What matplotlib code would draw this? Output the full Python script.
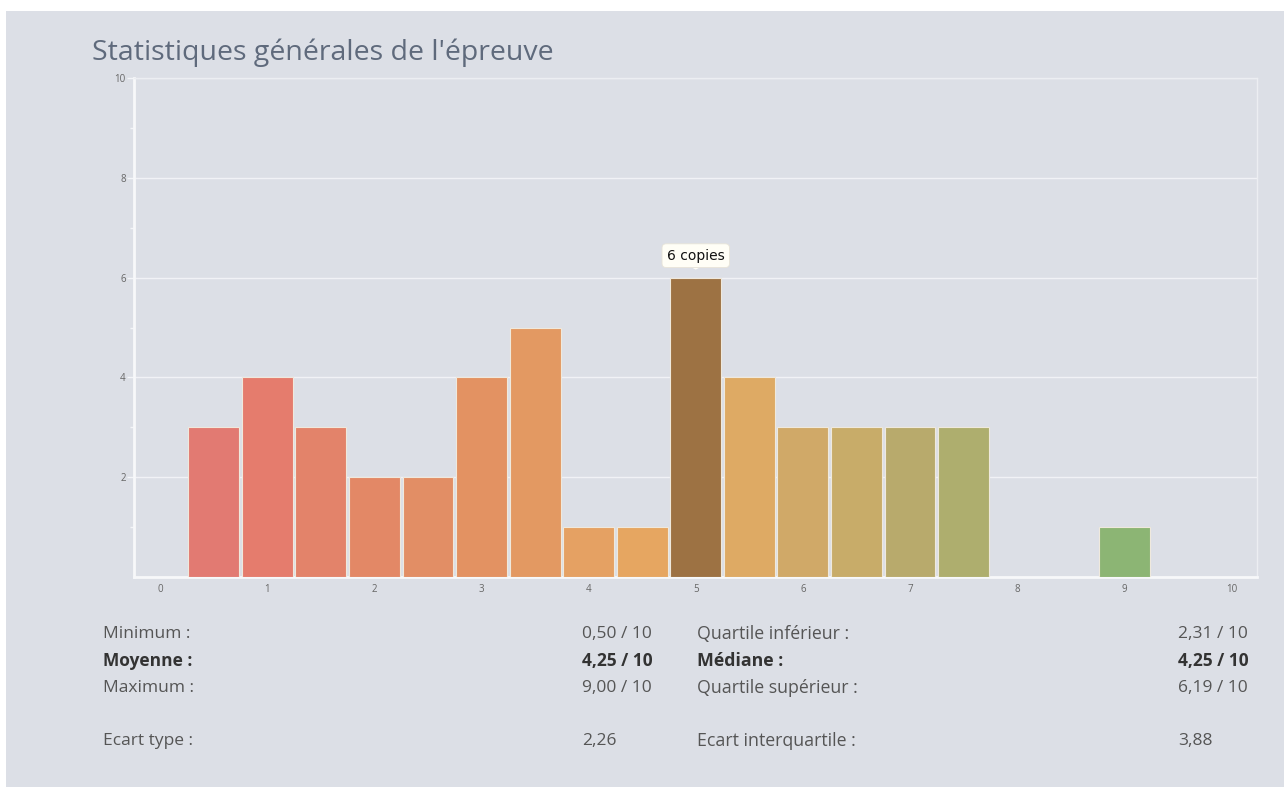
import matplotlib.pyplot as plt
from matplotlib.patches import Rectangle

# Data
notes = [0.5, 1.0, 1.5, 2.0, 2.5, 3.0, 3.5, 4.0, 4.5, 5.0, 5.5, 6.0, 6.5, 7.0, 7.5, 9.0]
copies = [3, 4, 3, 2, 2, 4, 5, 1, 1, 6, 4, 3, 3, 3, 3, 1]
bar_colors = ['#e27a72', '#e57c6d', '#e3836a', '#e38866', '#e28e65', '#e39262',
              '#e39962', '#e5a163', '#e6a661', '#9d7243', '#deaa64', '#d0a968',
              '#c8ac69', '#b8aa6c', '#aeae6e', '#8cb574']

stats_left = [("Minimum :", "0,50 / 10", False), ("Moyenne :", "4,25 / 10", True),
              ("Maximum :", "9,00 / 10", False), ("Ecart type :", "2,26", False)]
stats_right = [("Quartile inférieur :", "2,31 / 10", False), ("Médiane :", "4,25 / 10", True),
               ("Quartile supérieur :", "6,19 / 10", False), ("Ecart interquartile :", "3,88", False)]

W, H = 1284, 787
bg = '#dcdfe6'
plt.rcParams['font.family'] = ['Open Sans', 'DejaVu Sans']

fig = plt.figure(figsize=(W / 100, H / 100), dpi=100, facecolor='white')
# grey panel (white band on top and left)
fig.patches.append(Rectangle((6 / W, 0), 1, 1 - 11 / H, transform=fig.transFigure,
                             facecolor=bg, edgecolor='none', zorder=-10))

ax = fig.add_axes([134 / W, 1 - 577 / H, (1257 - 134) / W, (577 - 78) / H])
ax.set_facecolor(bg)
ax.bar(notes, copies, width=0.475, color=bar_colors, edgecolor='#efe9dd',
       linewidth=0.8, zorder=3)

ax.set_xlim(-0.245, 10.24)
ax.set_ylim(0, 10)
ax.set_xticks(range(11))
ax.set_yticks([2, 4, 6, 8, 10])
ax.set_yticks([1, 3, 5, 7, 9], minor=True)
ax.tick_params(axis='both', which='both', labelsize=7, colors='#f4f5f8',
               labelcolor='#666666')
ax.tick_params(axis='x', length=0, pad=5)
ax.tick_params(axis='y', which='major', length=5, width=1, pad=1)
ax.tick_params(axis='y', which='minor', length=3, width=1)
ax.grid(axis='y', color='#f1f2f6', linewidth=1, zorder=1)
for side in ['left', 'bottom']:
    ax.spines[side].set_color('#f7f8fa')
    ax.spines[side].set_linewidth(2)
for side in ['top', 'right']:
    ax.spines[side].set_color('#eceef2')
    ax.spines[side].set_linewidth(1)

# tooltip on the highlighted bar
i = copies.index(max(copies))
ax.annotate('6 copies', xy=(notes[i], copies[i] + 0.16), xytext=(0, 5),
            textcoords='offset points', ha='center', va='bottom', fontsize=10,
            family='DejaVu Sans', color='#111111',
            bbox=dict(boxstyle='round,pad=0.35,rounding_size=0.3', fc='#fffef6',
                      ec='#e8e4d8', lw=0.6),
            arrowprops=dict(arrowstyle='wedge,tail_width=0.5', fc='#fffef6',
                            ec='none', shrinkA=0, shrinkB=0), zorder=5)

fig.text(92 / W, 1 - 60 / H, "Statistiques générales de l'épreuve", fontsize=20.5,
         color='#5f6a7c', va='baseline')

rows_y = [634, 661, 688, 741]
for (lab, val, bold), y in zip(stats_left, rows_y):
    w = 'bold' if bold else 'normal'
    c = '#333333' if bold else '#555555'
    fig.text(103 / W, 1 - y / H, lab, fontsize=12.5, color=c, weight=w, va='center')
    fig.text(582 / W, 1 - y / H, val, fontsize=12.5, color=c, weight=w, va='center')
for (lab, val, bold), y in zip(stats_right, rows_y):
    w = 'bold' if bold else 'normal'
    c = '#333333' if bold else '#555555'
    fig.text(697 / W, 1 - y / H, lab, fontsize=12.8, color=c, weight=w, va='center')
    fig.text(1178 / W, 1 - y / H, val, fontsize=12.5, color=c, weight=w, va='center')

fig.savefig('out.png', dpi=100, facecolor='white')
